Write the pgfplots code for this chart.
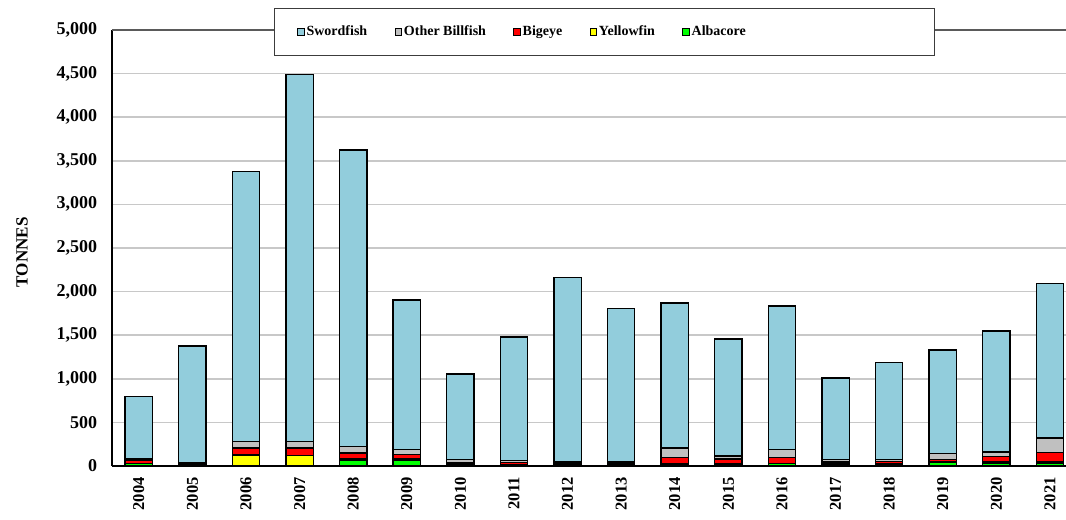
\documentclass[border=0pt]{standalone}
\usepackage{pgfplots}
\usepackage{pgfplotstable}
\usepackage{fontspec}
\setmainfont{Liberation Serif}
\pgfplotsset{compat=1.18}
\definecolor{swo}{RGB}{146,205,220}
\definecolor{obf}{RGB}{192,192,192}
\definecolor{bet}{RGB}{255,0,0}
\definecolor{yft}{RGB}{255,255,0}
\definecolor{alb}{RGB}{0,255,0}
\pgfplotsset{myleg/.style={legend image code/.code={\draw[fill=#1,draw=black,line width=0.7pt] (0pt,-2.4pt) rectangle (4.8pt,2.4pt);}}}
\pgfplotstableread{
x year alb yft bet obf swo
0 2004 25 5 40 10 720
1 2005 15 5 10 10 1335
2 2006 5 120 80 75 3100
3 2007 5 115 85 75 4210
4 2008 65 15 70 75 3400
5 2009 65 15 50 60 1715
6 2010 10 5 20 40 980
7 2011 10 5 25 20 1420
8 2012 10 5 20 10 2120
9 2013 10 5 20 10 1765
10 2014 20 5 75 105 1665
11 2015 20 5 55 35 1340
12 2016 25 5 65 95 1645
13 2017 20 5 20 30 935
14 2018 20 5 30 20 1115
15 2019 40 5 30 65 1190
16 2020 35 10 65 50 1390
17 2021 25 20 110 165 1770
}\data
\begin{document}
\begin{tikzpicture}
\begin{axis}[
  scale only axis,
  width=715.5pt, height=327pt,
  ybar stacked,
  bar width=20.5pt,
  xmin=-0.5, xmax=17.3,
  ymin=0, ymax=5000,
  ytick={0,500,...,5000},
  xtick={0,...,17},
  xticklabels={2004,2005,2006,2007,2008,2009,2010,2011,2012,2013,2014,2015,2016,2017,2018,2019,2020,2021},
  major tick length=0pt,
  axis lines=left,
  axis line style={-, black, line width=1pt},
  ymajorgrids,
  grid style={draw={rgb,255:red,200;green,200;blue,200}, line width=1.3pt},
  extra y ticks={5000},
  extra y tick labels={},
  extra y tick style={grid style={draw={rgb,255:red,90;green,90;blue,90}, line width=1pt}},
  /pgf/number format/assume math mode=true,
  /pgf/number format/.cd, 1000 sep={,}, /pgfplots/.cd,
  yticklabel style={font=\fontsize{13.5}{15}\selectfont\bfseries, inner sep=0pt, xshift=-11pt},
  xticklabel style={font=\fontsize{12.4}{14}\selectfont\bfseries, rotate=90, anchor=east, inner sep=0pt, xshift=-8.25pt},
  ylabel={TONNES},
  ylabel style={font=\fontsize{12.8}{14}\selectfont\bfseries, at={(axis description cs:-0.0943,0.49)}, anchor=center},
  clip=true,
  legend columns=-1,
  legend style={at={(axis description cs:0.5163,0.9954)}, anchor=center, draw={rgb,255:red,60;green,60;blue,60}, line width=0.8pt, fill=white,
    font=\fontsize{10.5}{12}\selectfont\bfseries, inner xsep=17pt, inner ysep=12pt,
    /tikz/every even column/.append style={column sep=19pt},
    nodes={inner sep=1.5pt}},
]
\addplot[fill=alb, draw=black, line width=1pt, forget plot] table[x=x, y=alb] {\data};
\addplot[fill=yft, draw=black, line width=1pt, forget plot] table[x=x, y=yft] {\data};
\addplot[fill=bet, draw=black, line width=1pt, forget plot] table[x=x, y=bet] {\data};
\addplot[fill=obf, draw=black, line width=1pt, forget plot] table[x=x, y=obf] {\data};
\addplot[fill=swo, draw=black, line width=1pt, forget plot] table[x=x, y=swo] {\data};
\addlegendimage{myleg=swo}\addlegendentry{Swordfish}
\addlegendimage{myleg=obf}\addlegendentry{Other Billfish}
\addlegendimage{myleg=bet}\addlegendentry{Bigeye}
\addlegendimage{myleg=yft}\addlegendentry{Yellowfin}
\addlegendimage{myleg=alb}\addlegendentry{Albacore}
\addlegendimage{empty legend}\addlegendentry{\hspace*{101pt}}
\end{axis}
\pgfresetboundingbox
\path[use as bounding box] (-84pt,-39.75pt) rectangle (715.5pt,349.5pt);
\end{tikzpicture}
\end{document}
